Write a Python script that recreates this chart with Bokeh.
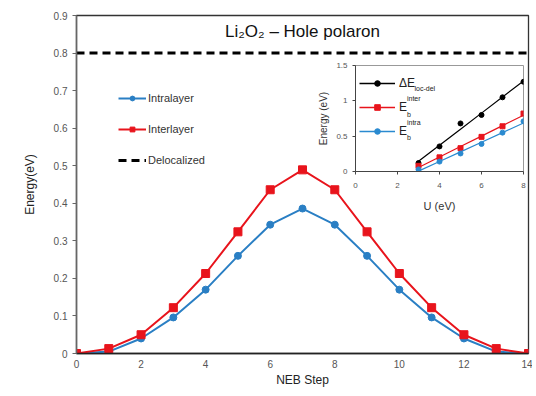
from bokeh.plotting import figure
from bokeh.models import (Range1d, FixedTicker, CustomJSTickFormatter, Legend, LegendItem,
                          Label, ColumnDataSource, GridBox)
from bokeh.embed import file_html
from bokeh.resources import INLINE
import numpy as np

# ---- main data ----
neb_step = [0, 1, 2, 3, 4, 5, 6, 7, 8, 9, 10, 11, 12, 13, 14]
intralayer = [0, 0.005, 0.04, 0.096, 0.17, 0.26, 0.343, 0.386, 0.343, 0.26, 0.17, 0.096, 0.04, 0.005, 0]
interlayer = [0, 0.013, 0.05, 0.122, 0.213, 0.324, 0.436, 0.489, 0.436, 0.324, 0.213, 0.122, 0.05, 0.013, 0]
delocalized = 0.8
title_text = "Li\u2082O\u2082 \u2013 Hole polaron"

# ---- inset data ----
u_vals = [3, 4, 5, 6, 7, 8]
de_locdel = [0.12, 0.355, 0.68, 0.80, 1.05, 1.27]
eb_inter = [0.08, 0.20, 0.33, 0.49, 0.64, 0.82]
eb_intra = [0.03, 0.14, 0.255, 0.39, 0.55, 0.71]

BLUE = "#2a7fc4"
BLUE2 = "#2a8ad0"
RED = "#e8141c"
FONT = "Liberation Sans"
TICKC = "#555555"

p = figure(width=532, height=392, output_backend="svg", toolbar_location=None,
           x_range=Range1d(0, 14), y_range=Range1d(0, 0.9),
           min_border_left=76, min_border_right=4, min_border_top=15, min_border_bottom=39)
p.outline_line_color = "#333333"
p.outline_line_width = 1.3
p.xgrid.visible = False
p.ygrid.visible = False
p.background_fill_color = None
p.border_fill_color = "white"

p.xaxis.ticker = FixedTicker(ticks=[0, 2, 4, 6, 8, 10, 12, 14])
p.yaxis.ticker = FixedTicker(ticks=[0, 0.1, 0.2, 0.3, 0.4, 0.5, 0.6, 0.7, 0.8, 0.9])
p.yaxis.formatter = CustomJSTickFormatter(code="return tick == 0 ? '0' : tick.toFixed(1);")
for ax in (p.xaxis, p.yaxis):
    ax.major_label_text_font = FONT
    ax.major_label_text_font_size = "10px"
    ax.major_label_text_color = TICKC
    ax.axis_label_text_font = FONT
    ax.axis_label_text_font_size = "12px"
    ax.axis_label_text_font_style = "normal"
    ax.axis_label_text_color = "#222222"
    ax.minor_tick_line_color = None
    ax.major_tick_in = 0
    ax.major_tick_out = 4
p.xaxis.axis_line_color = "#222222"
p.xaxis.axis_line_width = 1.5
p.xaxis.major_tick_line_color = None
p.yaxis.axis_line_color = "#666666"
p.yaxis.axis_line_width = 1.5
p.yaxis.major_tick_line_color = "#666666"
p.xaxis.axis_label = "NEB Step"
p.yaxis.axis_label = "Energy(eV)"
p.xaxis.axis_label_standoff = 2
p.yaxis.axis_label_standoff = 14
p.xaxis.major_label_standoff = 2

src = ColumnDataSource(dict(x=neb_step, intra=intralayer, inter=interlayer,
                            deloc=[delocalized] * len(neb_step)))
r_deloc = p.line("x", "deloc", source=src, line_color="black", line_width=3, line_dash="8 5")
r_intra_l = p.line("x", "intra", source=src, line_color=BLUE, line_width=2)
r_intra_m = p.scatter("x", "intra", source=src, marker="circle", size=7, fill_color=BLUE, line_color=BLUE)
r_inter_l = p.line("x", "inter", source=src, line_color=RED, line_width=2)
r_inter_m = p.scatter("x", "inter", source=src, marker="square", size=8, fill_color=RED, line_color=RED)

leg = Legend(items=[LegendItem(label="Intralayer", renderers=[r_intra_l, r_intra_m]),
                    LegendItem(label="Interlayer", renderers=[r_inter_l, r_inter_m]),
                    LegendItem(label="Delocalized", renderers=[r_deloc])],
             location=(42, 187), orientation="vertical")
leg.background_fill_alpha = 0
leg.border_line_color = None
leg.label_text_font = FONT
leg.label_text_font_size = "11px"
leg.label_text_color = "#333333"
leg.glyph_width = 28
leg.glyph_height = 12
leg.label_height = 12
leg.spacing = 19
leg.padding = 0
leg.margin = 0
leg.label_standoff = 2
p.add_layout(leg, "center")

p.add_layout(Label(x=7, y=0.857, text=title_text, text_align="center", text_baseline="middle",
                   text_font=FONT, text_font_size="17px", text_color="#111111"))

# ---- inset ----
q = figure(width=219, height=157, output_backend="svg", toolbar_location=None,
           x_range=Range1d(0, 8), y_range=Range1d(0, 1.5),
           min_border_left=47, min_border_right=4, min_border_top=7, min_border_bottom=44)
q.outline_line_color = "#999999"
q.xgrid.visible = False
q.ygrid.visible = False
q.background_fill_color = None
q.border_fill_color = None
q.xaxis.ticker = FixedTicker(ticks=[0, 2, 4, 6, 8])
q.yaxis.ticker = FixedTicker(ticks=[0, 0.5, 1, 1.5])
q.yaxis.formatter = CustomJSTickFormatter(code="return tick.toString();")
for ax in (q.xaxis, q.yaxis):
    ax.major_label_text_font = FONT
    ax.major_label_text_font_size = "8px"
    ax.major_label_text_color = TICKC
    ax.axis_label_text_font = FONT
    ax.axis_label_text_font_style = "normal"
    ax.axis_label_text_color = "#333333"
    ax.minor_tick_line_color = None
    ax.major_tick_in = 0
    ax.major_tick_out = 3
    ax.axis_line_color = "#444444"
    ax.major_tick_line_color = "#444444"
q.xaxis.axis_label = "U (eV)"
q.yaxis.axis_label = "Energy (eV)"
q.xaxis.axis_label_text_font_size = "11px"
q.yaxis.axis_label_text_font_size = "10px"
q.xaxis.major_label_standoff = 8
q.xaxis.axis_label_standoff = 9
q.yaxis.axis_label_standoff = 4

u = np.array(u_vals, dtype=float)
isrc = ColumnDataSource(dict(u=u_vals, de=de_locdel, inter=eb_inter, intra=eb_intra))
fits = {}
for key, vals in (("de", de_locdel), ("inter", eb_inter), ("intra", eb_intra)):
    a, b = np.polyfit(u, np.array(vals), 1)
    fits[key] = list(a * u + b)
fsrc = ColumnDataSource(dict(u=u_vals, de=fits["de"], inter=fits["inter"], intra=fits["intra"]))

l1 = q.line("u", "de", source=fsrc, line_color="black", line_width=1.2)
m1 = q.scatter("u", "de", source=isrc, marker="circle", size=5, fill_color="black", line_color="black")
l2 = q.line("u", "inter", source=fsrc, line_color=RED, line_width=1.2)
m2 = q.scatter("u", "inter", source=isrc, marker="square", size=5, fill_color=RED, line_color=RED)
l3 = q.line("u", "intra", source=fsrc, line_color=BLUE2, line_width=1.2)
m3 = q.scatter("u", "intra", source=isrc, marker="circle", size=5, fill_color=BLUE2, line_color=BLUE2)

# legend proxies (NaN data, only shown in the legend)
nan = [float("nan")]
lg1 = q.scatter(x=nan, y=nan, marker="circle", size=9, fill_color="black", line_color="black")
lg2 = q.scatter(x=nan, y=nan, marker="square", size=10, fill_color=RED, line_color=RED)
lg3 = q.scatter(x=nan, y=nan, marker="circle", size=10, fill_color=BLUE2, line_color=BLUE2)
ll1 = q.line(x=nan, y=nan, line_color="black", line_width=1.5)
ll2 = q.line(x=nan, y=nan, line_color=RED, line_width=1.5)
ll3 = q.line(x=nan, y=nan, line_color=BLUE2, line_width=1.5)

ileg = Legend(items=[LegendItem(label="\u0394E", renderers=[ll1, lg1]),
                     LegendItem(label="E", renderers=[ll2, lg2]),
                     LegendItem(label="E", renderers=[ll3, lg3])],
              location=(4, 33))
ileg.background_fill_alpha = 0
ileg.border_line_color = None
ileg.label_text_font = FONT
ileg.label_text_font_size = "12px"
ileg.label_text_color = "#222222"
ileg.glyph_width = 36
ileg.glyph_height = 14
ileg.label_height = 14
ileg.spacing = 10
ileg.padding = 0
ileg.margin = 0
ileg.label_standoff = 4
q.add_layout(ileg, "center")

sub_font = "7px"
for (sx, sy, st) in ((2.81, 1.17, "loc-del"), (2.45, 1.03, "inter"), (2.45, 0.81, "b"),
                     (2.45, 0.70, "intra"), (2.45, 0.48, "b")):
    q.add_layout(Label(x=sx, y=sy, text=st, text_font=FONT, text_font_size=sub_font,
                       text_color="#222222", text_baseline="middle"))

grid = GridBox(children=[(p, 0, 0, 3, 2), (q, 1, 1, 1, 1)],
               rows=["58px", "157px", "177px"], cols=["308px", "224px"], spacing=0)
open("out.html", "w").write(file_html(grid, INLINE))
